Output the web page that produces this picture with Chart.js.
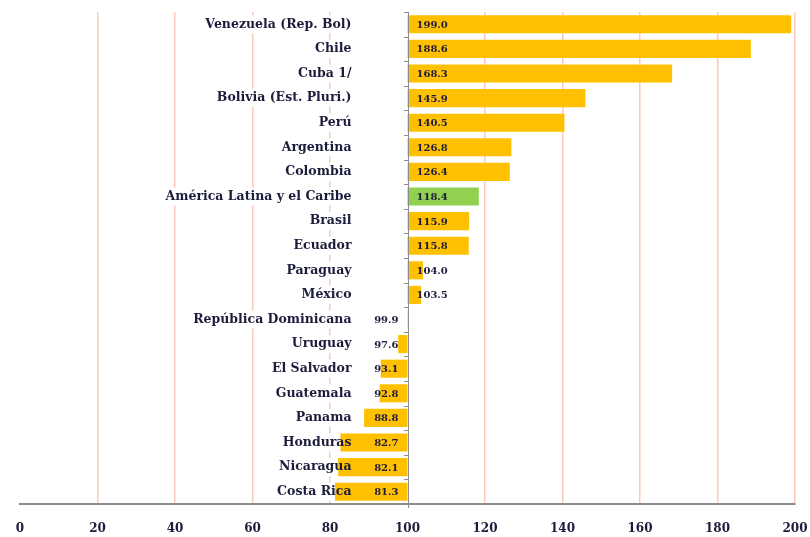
<!DOCTYPE html>
<html>
<head>
<meta charset="utf-8">
<script src="https://cdn.jsdelivr.net/npm/chart.js@4/dist/chart.umd.min.js"></script>
<style>
  html, body { margin: 0; padding: 0; background: #ffffff; }
  #wrap { width: 810px; height: 537px; position: relative; }
</style>
</head>
<body>
<div id="wrap"><canvas id="c" width="810" height="537"></canvas></div>
<script>
const categories = [
  "Venezuela (Rep. Bol)", "Chile", "Cuba 1/", "Bolivia (Est. Pluri.)", "Perú",
  "Argentina", "Colombia", "América Latina y el Caribe", "Brasil", "Ecuador",
  "Paraguay", "México", "República Dominicana", "Uruguay", "El Salvador",
  "Guatemala", "Panama", "Honduras", "Nicaragua", "Costa Rica"
];
const values = [199.0, 188.6, 168.3, 145.9, 140.5, 126.8, 126.4, 118.4, 115.9, 115.8,
  104.0, 103.5, 99.9, 97.6, 93.1, 92.8, 88.8, 82.7, 82.1, 81.3];
const baseValue = 100;
const highlight = "América Latina y el Caribe";
const xTicks = [0, 20, 40, 60, 80, 100, 120, 140, 160, 180, 200];

const gold = '#FFC000';
const green = '#92D050';
const textColor = '#1c1c3c';
const axisColor = '#8c8c8c';
const serif = "'DejaVu Serif', 'Liberation Serif', serif";
const catFont = "bold 12.5px " + serif;

// Category axis drawn at the base value (100), labels to its left
const baseAxis = {
  id: 'baseAxis',
  beforeDatasetsDraw(chart) {
    const ctx = chart.ctx;
    const xs = chart.scales.x, ys = chart.scales.y;
    const x0 = xs.getPixelForValue(baseValue);
    ctx.save();
    ctx.font = catFont;
    ctx.fillStyle = '#ffffff';
    categories.forEach((c, i) => {
      const y = ys.getPixelForValue(i);
      const w = ctx.measureText(c).width;
      ctx.fillRect(x0 - 56 - w - 2, y - 9, w + 4, 18);
    });
    ctx.restore();
  },
  afterDatasetsDraw(chart) {
    const ctx = chart.ctx;
    const xs = chart.scales.x, ys = chart.scales.y;
    const area = chart.chartArea;
    const x0 = xs.getPixelForValue(baseValue);
    ctx.save();
    ctx.strokeStyle = axisColor;
    ctx.lineWidth = 1;
    ctx.beginPath();
    ctx.moveTo(Math.round(x0) + 0.5, area.top);
    ctx.lineTo(Math.round(x0) + 0.5, area.bottom + 4);
    ctx.stroke();
    const step = (area.bottom - area.top) / categories.length;
    ctx.beginPath();
    for (let i = 0; i <= categories.length; i++) {
      const y = Math.round(area.top + i * step) + 0.5;
      ctx.moveTo(Math.round(x0) - 4, y);
      ctx.lineTo(Math.round(x0) + 0.5, y);
    }
    ctx.stroke();
    ctx.font = catFont;
    ctx.fillStyle = textColor;
    ctx.textAlign = 'right';
    ctx.textBaseline = 'middle';
    categories.forEach((c, i) => {
      const y = ys.getPixelForValue(i);
      ctx.fillText(c, x0 - 56, y);
    });
    ctx.font = "bold 10px " + serif;
    const meta = chart.getDatasetMeta(0);
    meta.data.forEach((bar, i) => {
      const v = values[i];
      if (v >= baseValue) {
        ctx.textAlign = 'left';
        ctx.fillText(v.toFixed(1), x0 + 9, bar.y + 1);
      } else {
        ctx.textAlign = 'right';
        ctx.fillText(v.toFixed(1), x0 - 9, bar.y + 1);
      }
    });
    ctx.restore();
  }
};

new Chart(document.getElementById('c'), {
  type: 'bar',
  data: {
    labels: categories,
    datasets: [{
      data: values.map(v => [baseValue, v]),
      backgroundColor: categories.map(c => c === highlight ? green : gold),
      borderWidth: 0,
      borderSkipped: false,
      categoryPercentage: 0.8,
      barPercentage: 0.92
    }]
  },
  options: {
    indexAxis: 'y',
    responsive: false,
    animation: false,
    layout: { padding: { left: 20, right: 15, top: 12, bottom: 0 } },
    plugins: { legend: { display: false }, tooltip: { enabled: false } },
    scales: {
      x: {
        min: 0, max: 200,
        afterBuildTicks(scale) { scale.ticks = xTicks.map(v => ({ value: v })); },
        afterFit(scale) { scale.height = 33; scale.paddingLeft = 0; scale.paddingRight = 0; },
        grid: {
          color: ctx => (ctx.tick && (ctx.tick.value === 0 || ctx.tick.value === 100)) ? 'rgba(0,0,0,0)' : '#fbcab8',
          lineWidth: 1.5,
          drawTicks: false
        },
        border: { display: true, color: axisColor, width: 2 },
        ticks: {
          font: { family: serif, size: 12, weight: 'bold' },
          color: textColor,
          padding: 18,
          maxRotation: 0
        }
      },
      y: {
        display: false,
        offset: true
      }
    }
  },
  plugins: [baseAxis]
});
</script>
</body>
</html>
